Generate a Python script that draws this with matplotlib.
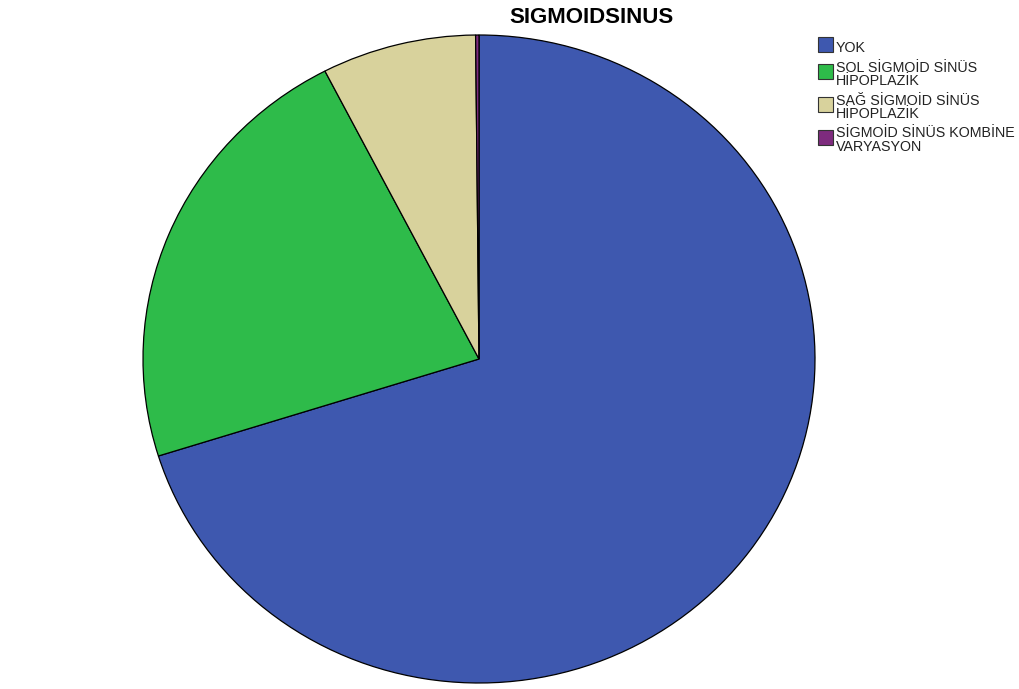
import matplotlib
matplotlib.use("Agg")
import matplotlib.pyplot as plt
from matplotlib.patches import Rectangle

# Data
labels = ["YOK", "SOL SİGMOİD SİNÜS\nHİPOPLAZİK", "SAĞ SİGMOİD SİNÜS\nHİPOPLAZİK",
          "SİGMOİD SİNÜS KOMBİNE\nVARYASYON"]
counts = [435, 138, 46, 1]
colors = ["#3E58AF", "#2EBB4A", "#D8D29C", "#7E2B7E"]
title = "SIGMOIDSINUS"

W, H = 1020, 689
fig = plt.figure(figsize=(W / 100, H / 100), dpi=100)
plt.rcParams['font.family'] = ['Liberation Sans', 'DejaVu Sans']

# pie is a little wider than tall, as in the original
cx, cy, rx, ry = 479, 359, 336, 324
ax = fig.add_axes([(cx - rx) / W, (H - cy - ry) / H, 2 * rx / W, 2 * ry / H])
wedges, _ = ax.pie(counts, colors=colors, startangle=90, counterclock=False,
                   wedgeprops=dict(edgecolor="black", linewidth=0.9, clip_on=False))
ax.set_aspect('auto')
ax.set_xlim(-1, 1)
ax.set_ylim(-1, 1)
ax.axis('off')

fig.text(591 / W, 1 - 23 / H, title, ha='center', va='baseline',
         fontsize=16, fontweight='bold')

# legend drawn by hand (pixel positions)
box_tops = [37, 64, 97, 130]
line_bases = [[52], [72, 85], [105, 118], [137, 151]]
for lab, col, top, bases in zip(labels, colors, box_tops, line_bases):
    fig.add_artist(Rectangle((818 / W, 1 - (top + 15) / H), 15 / W, 15 / H,
                             facecolor=col, edgecolor="#333333", linewidth=0.8,
                             transform=fig.transFigure))
    for txt, b in zip(lab.split("\n"), bases):
        fig.text(836 / W, 1 - b / H, txt, ha='left', va='baseline',
                 fontsize=10.3, color="#222222")

fig.savefig("out.png", dpi=100)
